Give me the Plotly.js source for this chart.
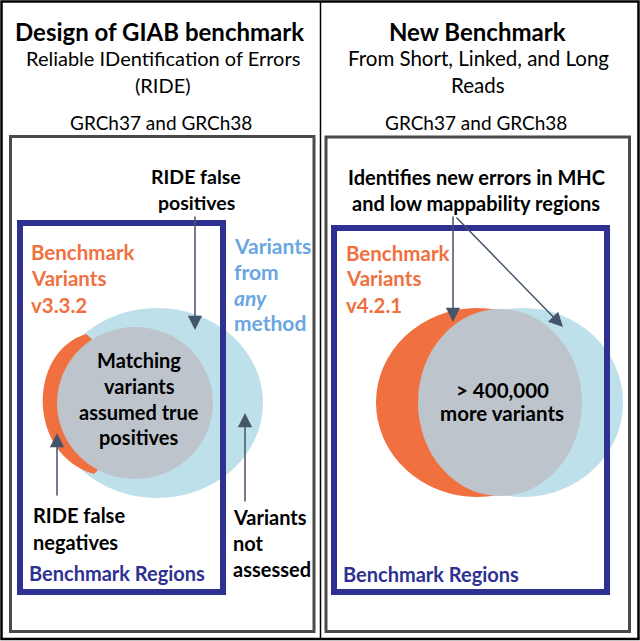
<!DOCTYPE html>
<html>
<head>
<meta charset="utf-8">
<script src="https://cdn.plot.ly/plotly-3.0.1.min.js"></script>
<style>
html,body{margin:0;padding:0;background:#fff;}
#chart{width:640px;height:641px;}
</style>
</head>
<body>
<div id="chart"></div>
<script>
// ---- text content of the diagram ----
const leftTitle = "Design of GIAB benchmark";
const leftSubtitle = ["Reliable IDentification of Errors", "(RIDE)"];
const rightTitle = "New Benchmark";
const rightSubtitle = ["From Short, Linked, and Long", "Reads"];
const referenceLabel = "GRCh37 and GRCh38";
const leftBenchmarkLabel = ["Benchmark", "Variants", "v3.3.2"];
const rightBenchmarkLabel = ["Benchmark", "Variants", "v4.2.1"];
const anyMethodLabel = ["Variants", "from", "<i>any</i>", "method"];
const falsePositiveLabel = ["RIDE false", "positives"];
const falseNegativeLabel = ["RIDE false", "negatives"];
const notAssessedLabel = ["Variants", "not", "assessed"];
const matchingLabel = ["Matching", "variants", "assumed true", "positives"];
const newErrorsLabel = ["Identifies new errors in MHC", "and low mappability regions"];
const moreVariantsLabel = ["> 400,000", "more variants"];
const regionsLabel = "Benchmark Regions";

// ---- styles ----
const FONT = "Lato, 'Open Sans', sans-serif";
const ORANGE = "#f07040";
const LIGHTBLUE = "#bee0eb";
const GRAY = "#bec4cc";
const NAVY = "#2e3192";
const BLUETEXT = "#6aa6df";
const ARROW = "#44546a";

const annotations = [];
function lines(arr, x, ys, anchor, size, color, bold) {
  arr.forEach((t, i) => {
    annotations.push({
      xref: "x", yref: "y", x: x, y: ys[i], showarrow: false,
      xanchor: anchor, yanchor: "middle",
      text: bold ? "<b>" + t + "</b>" : t,
      font: {family: FONT, size: size, color: color}
    });
  });
}
function arrow(x0, y0, x1, y1) {
  annotations.push({
    xref: "x", yref: "y", axref: "x", ayref: "y",
    x: x1, y: y1, ax: x0, ay: y0, text: "", showarrow: true,
    arrowhead: 2, arrowsize: 1.9, arrowwidth: 1.5, arrowcolor: ARROW,
    standoff: 0, startstandoff: 0
  });
}

// titles
lines([leftTitle], 159, [31], "center", 24, "#000", true);
lines(leftSubtitle, 163, [58, 85], "center", 20, "#000", false);
lines([referenceLabel], 161, [122], "center", 19, "#000", false);
lines([rightTitle], 477, [31], "center", 24, "#000", true);
lines(rightSubtitle, 478, [58, 85], "center", 20.5, "#000", false);
lines([referenceLabel], 476, [122], "center", 19, "#000", false);

// left panel labels
lines(falsePositiveLabel, 196, [176, 202], "center", 19.5, "#000", true);
lines(leftBenchmarkLabel, 29, [252, 278, 305], "left", 20.5, ORANGE, true);
lines(anyMethodLabel, 232, [245, 271, 297, 322], "left", 21, BLUETEXT, true);
lines(matchingLabel, 139, [360, 386, 412, 437], "center", 20, "#000", true);
lines(falseNegativeLabel, 31, [515, 542], "left", 20, "#000", true);
lines(notAssessedLabel, 231, [517, 543, 569], "left", 20, "#000", true);
lines([regionsLabel], 27, [573], "left", 20, NAVY, true);

// right panel labels
lines(newErrorsLabel, 476, [177, 203], "center", 20, "#000", true);
lines(rightBenchmarkLabel, 344, [253, 278, 305], "left", 20.5, ORANGE, true);
lines(moreVariantsLabel, 502, [390, 413], "center", 20.5, "#000", true);
lines([regionsLabel], 341, [574], "left", 20, NAVY, true);

// arrows
arrow(195, 215, 195, 330);
arrow(57, 497, 57, 433);
arrow(245, 503, 245, 413);
arrow(453, 215, 453, 322);
arrow(455, 216, 563, 327);

// ---- shapes ----
const shapes = [];
function rect(x0, y0, x1, y1, color, width) {
  shapes.push({type: "rect", xref: "x", yref: "y", x0, y0, x1, y1,
    line: {color: color, width: width}, fillcolor: "rgba(0,0,0,0)"});
}
function ellipse(x0, y0, x1, y1, fill) {
  shapes.push({type: "circle", xref: "x", yref: "y", x0, y0, x1, y1,
    line: {width: 0}, fillcolor: fill});
}
// frames
rect(1.5, 1.5, 638.5, 639, "#000", 2.5);
shapes.push({type: "line", xref: "x", yref: "y", x0: 320.5, x1: 320.5, y0: 1, y1: 640, line: {color: "#000", width: 1.5}});
rect(10.5, 136.5, 314, 631.5, "#4a4a4a", 3);
rect(326, 137, 629.5, 631.5, "#4a4a4a", 3);

// left venn
ellipse(51, 308, 263, 498, LIGHTBLUE);
shapes.push({type: "path", xref: "x", yref: "y",
  path: "M86,334 C27,352 27,455 94,474 C125,445 125,365 86,334 Z",
  fillcolor: ORANGE, line: {width: 0}});
ellipse(57, 327, 213, 479, GRAY);
rect(20, 223, 223, 592, NAVY, 6);

// right venn
ellipse(376, 308, 578, 497, ORANGE);
ellipse(423, 308, 623, 497, LIGHTBLUE);
ellipse(418, 309, 582, 496, GRAY);
rect(334, 228, 607, 592, NAVY, 6);

const layout = {
  width: 640, height: 641,
  margin: {l: 0, r: 0, t: 0, b: 0},
  paper_bgcolor: "#fff", plot_bgcolor: "#fff",
  showlegend: false,
  xaxis: {range: [0, 640], visible: false, fixedrange: true},
  yaxis: {range: [641, 0], visible: false, fixedrange: true},
  shapes: shapes,
  annotations: annotations
};
Plotly.newPlot("chart", [], layout, {displayModeBar: false, staticPlot: true});
</script>
</body>
</html>
